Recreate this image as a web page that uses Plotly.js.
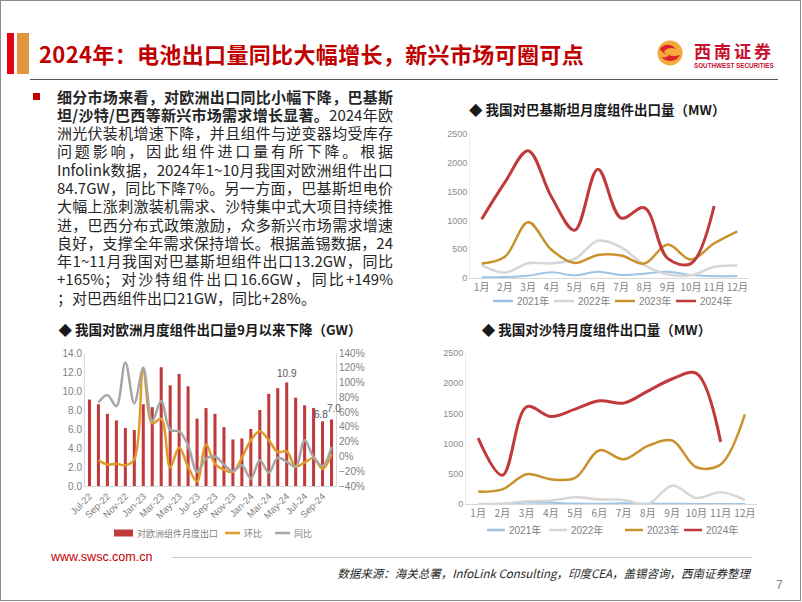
<!DOCTYPE html>
<html>
<head>
<meta charset="utf-8">
<script src="https://cdn.plot.ly/plotly-3.0.1.min.js"></script>
<style>
body{margin:0;background:#fff;font-family:"Noto Sans CJK SC",sans-serif;}
#slide{position:relative;width:802px;height:602px;overflow:hidden;background:#fff;}
#frame{position:absolute;left:0;top:0;width:801px;height:601px;box-sizing:border-box;border:1px solid #8c8c8c;}
.bar{position:absolute;top:33px;height:41px;}
#title{position:absolute;left:39px;top:37px;font-size:22px;font-weight:700;color:#C00000;white-space:nowrap;line-height:32px;letter-spacing:0.35px;}
#hline{position:absolute;left:30px;top:79px;width:748px;height:0;border-top:1.5px solid #555;}
#logoText{position:absolute;left:694px;top:42px;font-size:17px;font-weight:700;color:#C8102E;letter-spacing:3px;line-height:18px;white-space:nowrap;}
#logoSub{position:absolute;left:694px;top:62px;font-family:"Liberation Sans",sans-serif;font-size:6.3px;font-weight:700;color:#C8102E;white-space:nowrap;line-height:7px;}
#bullet{position:absolute;left:33px;top:93px;width:7px;height:7px;background:#C00000;}
#para{position:absolute;left:57px;top:87.5px;width:336px;font-size:15px;line-height:18.3px;color:#262626;}
#para .ln{text-align:justify;text-align-last:justify;height:18.3px;}
#para .ln.last{text-align-last:left;}
#para b{font-weight:700;}
.chart{position:absolute;}
#www{position:absolute;left:51px;top:550px;font-family:"Liberation Sans",sans-serif;font-size:12.5px;color:#C00000;line-height:15px;}
#fline{position:absolute;left:172px;top:557px;width:580px;border-top:1px solid #c8c8c8;}
#source{position:absolute;right:52px;top:565px;font-size:11.5px;font-style:italic;color:#262626;white-space:nowrap;line-height:16px;}
#page{position:absolute;left:776px;top:578px;font-family:"Liberation Sans",sans-serif;font-size:12px;color:#7f7f7f;}
</style>
</head>
<body>
<div id="slide">
  <div class="bar" style="left:7px;width:7px;background:#E50012;"></div>
  <div class="bar" style="left:17px;width:12px;background:#E0953E;"></div>
  <div id="title">2024年：电池出口量同比大幅增长，新兴市场可圈可点</div>
  <svg style="position:absolute;left:655px;top:38px" width="30" height="30" viewBox="0 0 30 30">
    <circle cx="15" cy="15" r="12.5" fill="#F3A93C"/>
    <path d="M5 11 C9 5,17 6,21 11 C16 9,11 10,9 14 C12 18,20 19,25 17 C22 24,12 25,6 19 C9 20,13 19,14 17 C10 16,6 14,5 11 Z" fill="#D9232D"/>
  </svg>
  <div id="logoText">西南证券</div>
  <div id="logoSub">SOUTHWEST SECURITIES</div>
  <div id="hline"></div>

  <div id="bullet"></div>
  <div id="para">
    <div class="ln"><b>细分市场来看，对欧洲出口同比小幅下降，巴基斯</b></div>
    <div class="ln"><b>坦/沙特/巴西等新兴市场需求增长显著。</b>2024年欧</div>
    <div class="ln">洲光伏装机增速下降，并且组件与逆变器均受库存</div>
    <div class="ln">问题影响，因此组件进口量有所下降。根据</div>
    <div class="ln">Infolink数据，2024年1~10月我国对欧洲组件出口</div>
    <div class="ln">84.7GW，同比下降7%。另一方面，巴基斯坦电价</div>
    <div class="ln">大幅上涨刺激装机需求、沙特集中式大项目持续推</div>
    <div class="ln">进，巴西分布式政策激励，众多新兴市场需求增速</div>
    <div class="ln">良好，支撑全年需求保持增长。根据盖锡数据，24</div>
    <div class="ln">年1~11月我国对巴基斯坦组件出口13.2GW，同比</div>
    <div class="ln">+165%；对沙特组件出口16.6GW，同比+149%</div>
    <div class="ln last">；对巴西组件出口21GW，同比+28%。</div>
  </div>

  <div id="chartPk" class="chart" style="left:440px;top:95px;width:355px;height:220px;"></div>
  <div id="chartEu" class="chart" style="left:40px;top:315px;width:330px;height:235px;"></div>
  <div id="chartSa" class="chart" style="left:430px;top:315px;width:370px;height:230px;"></div>

  <div id="www">www.swsc.com.cn</div>
  <div id="fline"></div>
  <div id="source">数据来源：海关总署，InfoLink Consulting，印度CEA，盖锡咨询，西南证券整理</div>
  <div id="page">7</div>
  <div id="frame"></div>
</div>
<script>
// 月份
const months = ['1月','2月','3月','4月','5月','6月','7月','8月','9月','10月','11月','12月'];
const yearNames = ['2021年','2022年','2023年','2024年'];

// 巴基斯坦 (MW)
const pk2021 = [12,17,40,98,46,110,52,75,110,52,29,35];
const pk2022 = [225,93,255,255,330,648,530,225,64,46,190,215];
const pk2023 = [250,370,970,490,260,400,390,250,580,320,600,810];
const pk2024 = [1020,1660,2210,1410,830,1890,1040,1220,340,250,1250];

// 沙特 (MW)
const sa2021 = [2,3,25,20,8,5,12,6,3,2,2,2];
const sa2022 = [0,5,44,55,110,77,66,0,304,100,194,66];
const sa2023 = [205,243,492,409,431,890,741,962,1051,608,653,1482];
const sa2024 = [1090,476,1610,1449,1571,1709,1670,1870,2069,2163,1029];

// 欧洲 (GW, %)
const euMonths = ['Jul-22','Aug-22','Sep-22','Oct-22','Nov-22','Dec-22','Jan-23','Feb-23','Mar-23','Apr-23','May-23','Jun-23',
  'Jul-23','Aug-23','Sep-23','Oct-23','Nov-23','Dec-23','Jan-24','Feb-24','Mar-24','Apr-24','May-24','Jun-24',
  'Jul-24','Aug-24','Sep-24','Oct-24'];
const euExport = [9.1,8.6,7.6,6.9,6.1,5.9,8.6,8.3,12.5,10.6,11.8,10.5,7.1,8.2,7.6,6.2,4.9,5.0,6.0,8.0,9.7,10.3,10.9,9.3,8.5,8.2,6.8,7.0];
const euMoM = [null,-5,-11,-10,-12,-4,118,45,51,-15,12,-14,-34,16,-10,-18,-21,-2,22,34,22,6,7,-14,-8,-2,-17,3];
const euYoY = [null,73,83,68,127,72,120,48,75,36,34,15,-21,-3,0,-11,-20,-12,-30,-5,-22,-2,-7,-14,22,-1,-13,13];
const euTickLabels = euMonths.filter((m, i) => i % 2 === 0);
const euLabelIdx = [22, 26, 27];

const yearColors = ['#9DC3E6','#D6D6D6','#C9922E','#C0393B'];
const yearWidths = [2, 2.5, 2.5, 3];
const tickGray = '#7f7f7f';
const latin = '"Liberation Sans", "Noto Sans CJK SC", sans-serif';
const cjk = '"Noto Sans CJK SC", sans-serif';
const config = {staticPlot: true, displayModeBar: false};

function yearTraces(series) {
  return series.map((ys, i) => ({
    x: months.slice(0, ys.length),
    y: ys,
    type: 'scatter',
    mode: 'lines',
    name: yearNames[i],
    line: {color: yearColors[i], width: yearWidths[i], shape: 'spline', smoothing: 1},
    showlegend: false,
    hoverinfo: 'skip'
  }));
}

// 手动图例 (像素 -> paper)
function addLegend(layout, geo, items, y, fsize) {
  const pw = geo.W - geo.l - geo.r, ph = geo.H - geo.t - geo.b;
  const px = v => (v - geo.l) / pw;
  const py = v => (geo.H - geo.b - v) / ph;
  items.forEach(it => {
    if (it.kind === 'bar') {
      layout.shapes.push({type: 'rect', xref: 'paper', yref: 'paper', x0: px(it.x), x1: px(it.x + it.len),
        y0: py(y + 3.5), y1: py(y - 3.5), fillcolor: it.color, line: {width: 0}});
    } else {
      layout.shapes.push({type: 'line', xref: 'paper', yref: 'paper', x0: px(it.x), x1: px(it.x + it.len),
        y0: py(y), y1: py(y), line: {color: it.color, width: it.width}});
    }
    layout.annotations.push({xref: 'paper', yref: 'paper', x: px(it.x + it.len + 2), y: py(y),
      xanchor: 'left', yanchor: 'middle', text: it.name, showarrow: false,
      font: {family: it.font || latin, size: fsize || 10, color: tickGray}});
  });
}

function yearLayout(geo, titleText, titleX) {
  return {
    width: geo.W, height: geo.H,
    margin: {l: geo.l, r: geo.r, t: geo.t, b: geo.b},
    paper_bgcolor: '#fff', plot_bgcolor: '#fff',
    font: {family: latin, size: 10, color: tickGray},
    title: {text: titleText, xref: 'container', yref: 'container', x: titleX, xanchor: 'center',
      y: 1 - 15 / geo.H, yanchor: 'middle', font: {family: cjk, size: 13.5, weight: 700, color: '#1a1a1a'}},
    xaxis: {type: 'category', range: [-0.5, 11.5], showgrid: false, zeroline: false, showline: true,
      linecolor: '#d9d9d9', linewidth: 1, ticks: '', tickfont: {size: 10, color: tickGray, family: cjk}},
    yaxis: {range: [0, 2500], dtick: 500, showgrid: false, zeroline: false, showline: true,
      linecolor: '#ededed', ticks: '', tickfont: {size: 9, color: '#8c8c8c'}},
    showlegend: false,
    shapes: [], annotations: []
  };
}

// 巴基斯坦
const pkGeo = {W: 355, H: 220, l: 30, r: 46, t: 39, b: 37};
const pkLayout = yearLayout(pkGeo, '◆ 我国对巴基斯坦月度组件出口量（MW）', 0.443);
addLegend(pkLayout, pkGeo, yearNames.map((n, i) => ({name: n, color: yearColors[i], width: 2.5, x: 53 + i * 61, len: 20})), 206);
Plotly.newPlot('chartPk', yearTraces([pk2021, pk2022, pk2023, pk2024]), pkLayout, config);

// 沙特
const saGeo = {W: 370, H: 230, l: 36, r: 43, t: 38, b: 41};
const saLayout = yearLayout(saGeo, '◆ 我国对沙特月度组件出口量（MW）', 0.45);
addLegend(saLayout, saGeo, yearNames.map((n, i) => ({name: n, color: yearColors[i], width: 2.5, x: [57, 119, 195, 254][i], len: 18})), 215);
Plotly.newPlot('chartSa', yearTraces([sa2021, sa2022, sa2023, sa2024]), saLayout, config);

// 欧洲
const euGeo = {W: 330, H: 235, l: 45, r: 34, t: 38, b: 64};
const euTraces = [
  {x: euMonths, y: euExport, type: 'bar', name: '对欧洲组件月度出口', marker: {color: '#C0393B'}, hoverinfo: 'skip'},
  {x: euMonths, y: euMoM, type: 'scatter', mode: 'lines', yaxis: 'y2', name: '环比',
    line: {color: '#E09B2D', width: 2.5, shape: 'spline', smoothing: 1}, connectgaps: false, hoverinfo: 'skip'},
  {x: euMonths, y: euYoY, type: 'scatter', mode: 'lines', yaxis: 'y2', name: '同比',
    line: {color: '#A6A6A6', width: 2.5, shape: 'spline', smoothing: 1}, connectgaps: false, hoverinfo: 'skip'}
];
const euLayout = {
  width: euGeo.W, height: euGeo.H,
  margin: {l: euGeo.l, r: euGeo.r, t: euGeo.t, b: euGeo.b},
  paper_bgcolor: '#fff', plot_bgcolor: '#fff',
  font: {family: latin, size: 10, color: '#595959'},
  title: {text: '◆ 我国对欧洲月度组件出口量9月以来下降（GW）', xref: 'container', yref: 'container', x: 0.515, xanchor: 'center',
    y: 1 - 15 / euGeo.H, yanchor: 'middle', font: {family: cjk, size: 13.5, weight: 700, color: '#1a1a1a'}},
  bargap: 0.66,
  xaxis: {type: 'category', range: [-0.5, 27.5], showgrid: false, zeroline: false, showline: true, linecolor: '#d9d9d9',
    ticks: '', tickvals: euTickLabels, ticktext: euTickLabels, tickangle: -45, tickfont: {size: 9.5, color: '#7f7f7f'}},
  yaxis: {range: [0, 14], dtick: 2, tickformat: '.1f', showgrid: false, zeroline: false, showline: true, linecolor: '#d9d9d9',
    ticks: '', tickfont: {size: 10, color: '#7f7f7f'}},
  yaxis2: {overlaying: 'y', side: 'right', range: [-40, 140], dtick: 20, ticksuffix: '%', showgrid: false, zeroline: false,
    showline: true, linecolor: '#d9d9d9', ticks: '', tickfont: {size: 10, color: '#7f7f7f'}},
  showlegend: false,
  shapes: [],
  annotations: euLabelIdx.map((idx, k) => ({
    x: euMonths[idx], y: euExport[idx], xref: 'x', yref: 'y', text: euExport[idx].toFixed(1), showarrow: false,
    yanchor: 'bottom', yshift: [1, -1, 4][k], xshift: [0, -2, 2][k],
    font: {size: 10, color: k === 1 ? '#44546A' : '#595959'}
  }))
};
addLegend(euLayout, euGeo, [
  {kind: 'bar', name: euTraces[0].name, color: '#C0393B', x: 74, len: 19, font: cjk},
  {name: euTraces[1].name, color: '#E09B2D', width: 2.5, x: 185, len: 15, font: cjk},
  {name: euTraces[2].name, color: '#A6A6A6', width: 2.5, x: 235, len: 15, font: cjk}
], 218, 9);
Plotly.newPlot('chartEu', euTraces, euLayout, config);
</script>
</body>
</html>
